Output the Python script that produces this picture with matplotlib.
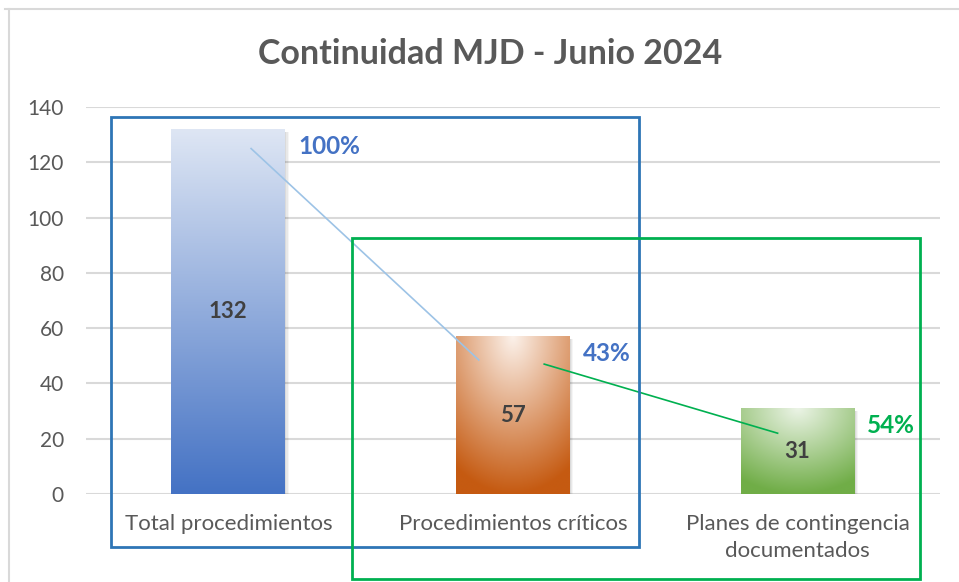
import numpy as np
import matplotlib.pyplot as plt
from matplotlib.patches import Rectangle
from matplotlib.lines import Line2D

categories = ['Total procedimientos', 'Procedimientos críticos',
              'Planes de contingencia\ndocumentados']
values = [132, 57, 31]
pct_labels = ['100%', '{:.0f}%'.format(57 / 132 * 100), '{:.0f}%'.format(31 / 57 * 100)]
yticks = [0, 20, 40, 60, 80, 100, 120, 140]

plt.rcParams['font.family'] = ['Lato', 'DejaVu Sans']

# top and bottom colours of each bar gradient
tops = [(222, 230, 244), (252, 242, 235), (236, 244, 231)]
bottoms = [(68, 114, 196), (197, 90, 17), (112, 173, 71)]
radial = [False, True, True]
pct_colors = ['#4472C4', '#4472C4', '#00B050']

fig = plt.figure(figsize=(9.59, 5.82), dpi=100)
ax = fig.add_axes([0.0897, 0.1512, 0.8903, 0.6648])

w = 0.40
x = np.arange(len(values))
for i, v in enumerate(values):
    ny, nx = 200, 60
    yy, xx = np.mgrid[0:1:ny * 1j, -0.5:0.5:nx * 1j]
    if radial[i]:
        t = np.clip(np.sqrt((xx * 1.1) ** 2 + yy ** 2), 0, 1)
    else:
        t = yy
    top = np.array(tops[i]) / 255
    bot = np.array(bottoms[i]) / 255
    img = top[None, None, :] * (1 - t[..., None]) + bot[None, None, :] * t[..., None]
    # soft shadow
    for k, a in zip([0.03, 0.02, 0.01], [0.04, 0.05, 0.06]):
        ax.add_patch(Rectangle((x[i] - w / 2 + k * 0.4, -0.5), w, v - 0.5,
                               color='black', alpha=a, lw=0, zorder=1.5))
    ax.imshow(img, extent=[x[i] - w / 2, x[i] + w / 2, 0, v], aspect='auto',
              interpolation='bilinear', zorder=2)
    ax.text(x[i], v / 2, str(v), ha='center', va='center', fontsize=16,
            fontweight='bold', color='#404040', zorder=5)
    ax.text(x[i] + w / 2 + 0.045, v - 6.3, pct_labels[i], ha='left', va='center',
            fontsize=17.5, fontweight='bold', color=pct_colors[i], zorder=5)

# connector lines between bars
ax.plot([x[0] + 0.08, x[1] - 0.12], [values[0] - 7, values[1] - 8.5],
        color='#9DC3E6', lw=1.2, zorder=4)
ax.plot([x[1] + 0.11, x[2] - 0.07], [values[1] - 10, values[2] - 9],
        color='#00B050', lw=1.2, zorder=4)

# group boxes
ax.add_patch(Rectangle((-0.412, -19.2), 1.856, 155.6, fill=False,
                       edgecolor='#2E75B6', lw=2, clip_on=False, zorder=6))
ax.add_patch(Rectangle((0.433, -30.8), 1.997, 123.4, fill=False,
                       edgecolor='#00B050', lw=2, clip_on=False, zorder=6))

ax.set_xlim(-0.5, 2.5)
ax.set_ylim(0, 140)
ax.set_yticks(yticks)
ax.set_xticks(x)
ax.set_xticklabels(categories, linespacing=1.4)
ax.grid(axis='y', color='#D9D9D9', lw=1.5, zorder=0)
ax.set_axisbelow(True)
for s in ax.spines.values():
    s.set_visible(False)
ax.tick_params(axis='y', length=0, pad=16, labelsize=15, labelcolor='#595959')
ax.tick_params(axis='x', length=0, pad=14.5, labelsize=16, labelcolor='#595959')

fig.text(0.511, 0.908, 'Continuidad MJD - Junio 2024', ha='center', va='center',
         fontsize=24.5, fontweight='bold', color='#595959')

# chart border
fig.add_artist(Line2D([0.005, 1], [0.9845, 0.9845], color='#D9D9D9', lw=1.5))
fig.add_artist(Line2D([0.0094, 0.0094], [0, 0.9845], color='#D9D9D9', lw=1.5))

fig.savefig('out.png', dpi=100)
